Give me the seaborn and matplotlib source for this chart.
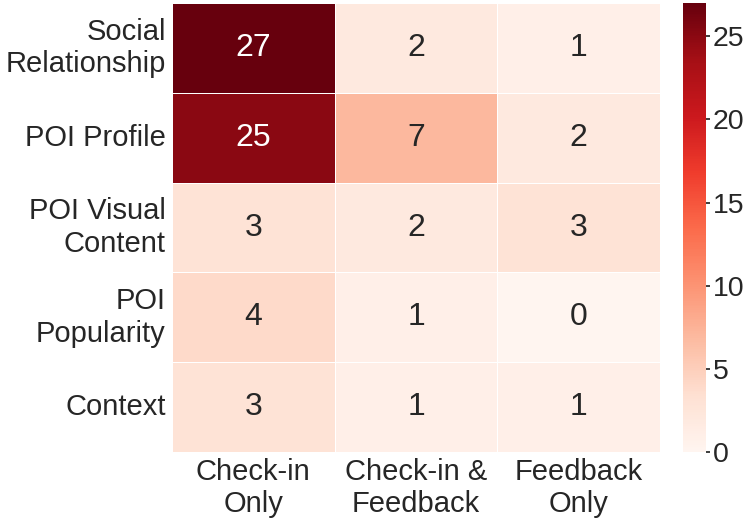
import matplotlib
matplotlib.use("Agg")
import matplotlib.pyplot as plt
import seaborn as sns
import numpy as np
import pandas as pd

rows = ["Social\nRelationship", "POI Profile", "POI Visual\nContent", "POI\nPopularity", "Context"]
cols = ["Check-in\nOnly", "Check-in &\nFeedback", "Feedback\nOnly"]
checkin_only = [27, 25, 3, 4, 3]
checkin_feedback = [2, 7, 2, 1, 1]
feedback_only = [1, 2, 3, 0, 1]

df = pd.DataFrame({cols[0]: checkin_only, cols[1]: checkin_feedback, cols[2]: feedback_only}, index=rows)

sns.set_theme(style="white")
plt.rcParams['font.family'] = ['Liberation Sans', 'DejaVu Sans']

fig = plt.figure(figsize=(7.48, 5.2), dpi=100)
ax = fig.add_axes([172/748, 1-452/520, (660-172)/748, 449/520])
cax = fig.add_axes([683/748, 1-452/520, 23/748, 449/520])
sns.heatmap(df, ax=ax, cbar_ax=cax, cmap="Reds", annot=True, fmt="d",
            annot_kws={"size": 23}, linewidths=0.5, linecolor="white", vmin=0, vmax=27)
ax.tick_params(axis='both', labelsize=21, length=0)
ax.tick_params(axis='y', pad=4.5)
ax.tick_params(axis='x', pad=4)
ax.set_yticklabels(rows, rotation=0, ha='right', multialignment='right')
ax.set_xticklabels(cols, rotation=0)
cax.tick_params(labelsize=20.5, length=3, pad=2)
cax.set_yticks([0, 5, 10, 15, 20, 25])
fig.savefig("out.png", dpi=100)
